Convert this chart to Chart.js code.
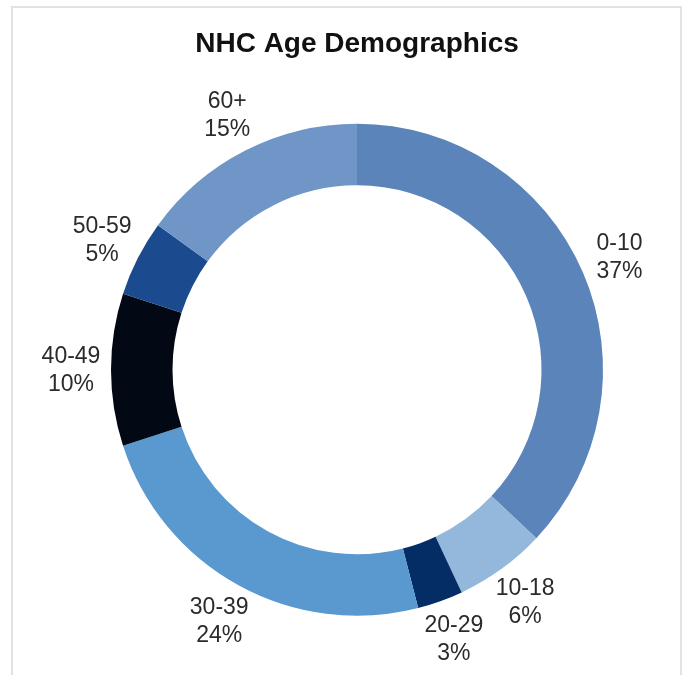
<!DOCTYPE html>
<html>
<head>
<meta charset="utf-8">
<script src="https://cdn.jsdelivr.net/npm/chart.js@4/dist/chart.umd.min.js"></script>
<style>
    html, body { margin: 0; padding: 0; background: #fff; }
    #wrap { position: relative; width: 686px; height: 675px; }
    #frame {
        position: absolute; left: 11px; top: 6px; width: 671px; height: 675px;
        border: 2px solid #e2e2e2; border-bottom: none; box-sizing: border-box;
    }
    canvas { position: absolute; left: 0; top: 0; }
</style>
</head>
<body>
<div id="wrap">
    <div id="frame"></div>
    <canvas id="ageChart" width="686" height="675"></canvas>
</div>
<script>
// Data
const ageGroups = ['0-10', '10-18', '20-29', '30-39', '40-49', '50-59', '60+'];
const shares = [37, 6, 3, 24, 10, 5, 15];
const sliceColors = ['#5b85ba', '#94b7dc', '#042d66', '#5a98d0', '#020914', '#1b4b8e', '#6f96c6'];

// Labels drawn outside the ring, centred on each slice's mid angle
const outerLabels = {
    id: 'outerLabels',
    afterDatasetsDraw(chart) {
        const { ctx } = chart;
        const arcs = chart.getDatasetMeta(0).data;
        ctx.save();
        ctx.font = '23px "Liberation Sans", Arial, sans-serif';
        ctx.fillStyle = '#2b2b2b';
        ctx.textAlign = 'center';
        ctx.textBaseline = 'middle';
        arcs.forEach((arc, i) => {
            const mid = (arc.startAngle + arc.endAngle) / 2;
            const r = arc.outerRadius + 40;
            const x = arc.x + Math.cos(mid) * r;
            const y = arc.y + Math.sin(mid) * r;
            ctx.fillText(ageGroups[i], x, y - 13);
            ctx.fillText(shares[i] + '%', x, y + 15);
        });
        ctx.restore();
    }
};

new Chart(document.getElementById('ageChart'), {
    type: 'doughnut',
    data: {
        labels: ageGroups,
        datasets: [{
            data: shares,
            backgroundColor: sliceColors,
            borderWidth: 0
        }]
    },
    options: {
        responsive: false,
        animation: false,
        cutout: '75%',
        layout: {
            padding: { top: 10, left: 111, right: 83, bottom: 59 }
        },
        plugins: {
            legend: { display: false },
            tooltip: { enabled: false },
            title: {
                display: true,
                text: 'NHC Age Demographics',
                color: '#111',
                font: { family: '"Liberation Sans", Arial, sans-serif', size: 28, weight: 'bold', lineHeight: 1.2 },
                padding: { top: 17, bottom: 63 }
            }
        }
    },
    plugins: [outerLabels]
});
</script>
</body>
</html>
